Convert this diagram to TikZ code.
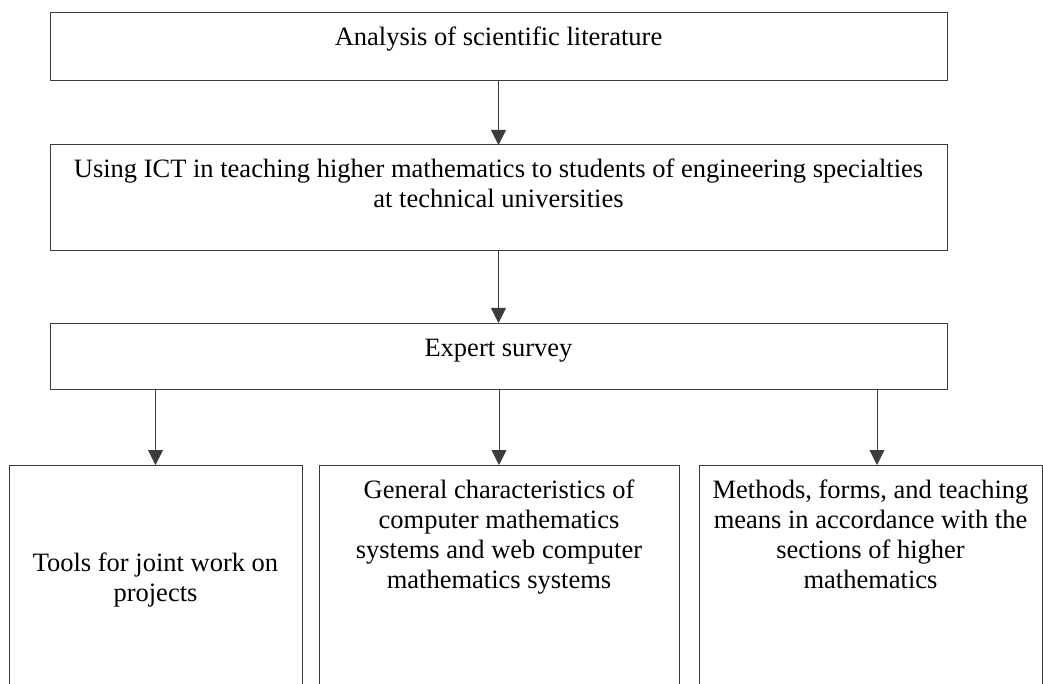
\documentclass[tikz,border=0pt]{standalone}
\usepackage{fontspec}
\setmainfont{Liberation Serif}
\usepackage{tikz}
\usetikzlibrary{arrows.meta,positioning}
\definecolor{boxline}{RGB}{60,60,60}

\begin{document}
\begin{tikzpicture}
  [x=1pt, y=-1pt, node distance=64pt,
  stage/.style={rectangle, minimum width=897pt, inner sep=0pt, outer sep=0pt, align=center, draw=boxline, line width=1pt, font=\fontsize{26.5}{30}\selectfont},
  topic/.style={rectangle, anchor=north, inner sep=0pt, outer sep=0pt, align=center, draw=boxline, line width=1pt, font=\fontsize{26.5}{30}\selectfont},
  arrow/.style={draw=boxline, line width=0.8pt, -{Triangle[width=15pt,length=15pt]}}]
  \useasboundingbox (0,0) rectangle (1043,684);
  \clip (0,0) rectangle (1043,684);

% Main stages
\node (analysis) [stage, anchor=north, text height=33pt, text depth=35pt] at (498.5,13) {Analysis of scientific literature};
\node (ict) [stage, below=64pt of analysis, text height=63pt, text depth=43pt] {Using ICT in teaching higher mathematics to students of engineering specialties\\at technical universities};
\draw[arrow] (analysis) -- (ict);
\node (survey) [stage, below=72pt of ict, text height=33pt, text depth=33pt] {Expert survey};
\draw[arrow] (ict) -- (survey);

% Survey topics
\node (tools) [topic, minimum width=293pt, text height=136pt, text depth=130pt] at (155.5,465) {Tools for joint work on\\projects};
\node (cms) [topic, minimum width=360pt, text height=123pt, text depth=120pt] at (499,465) {General characteristics of\\computer mathematics\\systems and web computer\\mathematics systems};
\node (methods) [topic, minimum width=343pt, text height=123pt, text depth=120pt] at (870.5,465) {Methods, forms, and teaching\\means in accordance with the\\sections of higher\\mathematics};
\draw[arrow] (survey.south -| tools.north) -- (tools.north);
\draw[arrow] (survey.south -| cms.north) -- (cms.north);
\draw[arrow] ([xshift=6.5pt]methods.north |- survey.south) -- ([xshift=6.5pt]methods.north);
\end{tikzpicture}
\end{document}
